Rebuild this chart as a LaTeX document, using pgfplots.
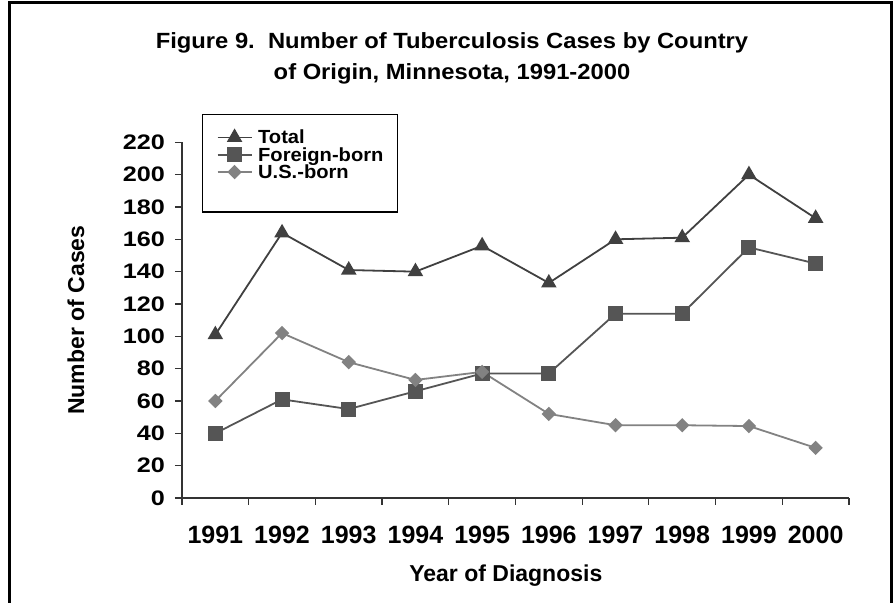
\documentclass[border=0pt]{standalone}
\usepackage{fontspec}
\setmainfont{Liberation Sans}
\newfontfamily\titlefont[FakeStretch=1.08]{Liberation Sans}
\newfontfamily\yfont[FakeStretch=1.2]{Liberation Sans}
\newfontfamily\legfont[FakeStretch=1.06]{Liberation Sans}
\usepackage{pgfplots}
\pgfplotsset{compat=1.18}
\definecolor{totc}{HTML}{404040}
\definecolor{forc}{HTML}{555555}
\definecolor{usc}{HTML}{828282}
\begin{document}
\begin{tikzpicture}
\path[use as bounding box] (-91pt,-52.5pt) rectangle (356pt,249pt);
\draw[line width=1.2pt, black] (-86.25pt,-54pt) -- (-86.25pt,247.8pt) -- (354.75pt,247.8pt) -- (354.75pt,-54pt);
\node[anchor=base, font=\titlefont\bfseries\fontsize{11}{12}\selectfont] at (135pt,224.85pt) {Figure 9.\ \ Number of Tuberculosis Cases by Country};
\node[anchor=base, font=\titlefont\bfseries\fontsize{11}{12}\selectfont] at (135pt,209pt) {of Origin, Minnesota, 1991-2000};
\begin{axis}[
  at={(0pt,0pt)}, anchor=south west,
  scale only axis, width=333.5pt, height=177.85pt,
  xmin=-0.5, xmax=9.5, ymin=0, ymax=220,
  axis x line*=bottom, axis y line*=left,
  axis line style={black!80, line width=0.6pt, -},
  /pgf/number format/assume math mode=true,
  xtick={0,...,9},
  xticklabels={1991,1992,1993,1994,1995,1996,1997,1998,1999,2000},
  major x tick style={draw=none},
  minor xtick={-0.5,0.5,...,9.5},
  ytick={0,20,...,220},
  tick align=outside,
  major tick length=3.5pt,
  minor tick length=3.3pt,
  tick style={black!80, line width=0.6pt},
  xticklabel style={anchor=base, yshift=-19.15pt, font=\bfseries\fontsize{12.5}{14}\selectfont},
  yticklabel style={anchor=east, xshift=-1.5pt, font=\yfont\bfseries\fontsize{10.5}{12}\selectfont},
  xlabel={Year of Diagnosis},
  xlabel style={at={(axis description cs:0.4855,-0.2353)}, anchor=base, font=\bfseries\fontsize{11.5}{13}\selectfont},
  ylabel={Number of Cases},
  ylabel style={at={(axis description cs:-0.159,0.5)}, anchor=center, font=\bfseries\fontsize{11.5}{13}\selectfont},
  legend cell align=left,
  legend style={at={(0.03,1.079)}, anchor=north west, draw=black, line width=0.6pt,
    inner xsep=7pt, inner ysep=7pt, row sep=0pt, column sep=2.8pt,
    font=\legfont\bfseries\fontsize{9.5}{8.65}\selectfont,
    nodes={inner sep=0pt, text height=7.5pt, text depth=1.15pt}},
]
\addplot[color=totc, line width=0.9pt, mark=triangle*, mark size=3.6pt, mark options={solid, fill=totc, draw=totc}]
  coordinates {(0,101) (1,164) (2,141) (3,140) (4,156) (5,133) (6,160) (7,161) (8,200) (9,173)};
\addlegendentry{Total}
\addplot[color=forc, line width=0.9pt, mark=square*, mark size=3.3pt, mark options={solid, fill=forc, draw=forc}]
  coordinates {(0,40) (1,61) (2,55) (3,66) (4,77) (5,77) (6,114) (7,114) (8,155) (9,145)};
\addlegendentry{Foreign-born}
\addplot[color=usc, line width=0.9pt, mark=square*, mark size=2.1pt, mark options={solid, rotate=45, fill=usc, draw=usc}]
  coordinates {(0,60) (1,102) (2,84) (3,73) (4,78) (5,52) (6,45) (7,45) (8,44.5) (9,31)};
\addlegendentry{U.S.-born}
\addlegendimage{empty legend}
\addlegendentry{}
\end{axis}
\end{tikzpicture}
\end{document}
